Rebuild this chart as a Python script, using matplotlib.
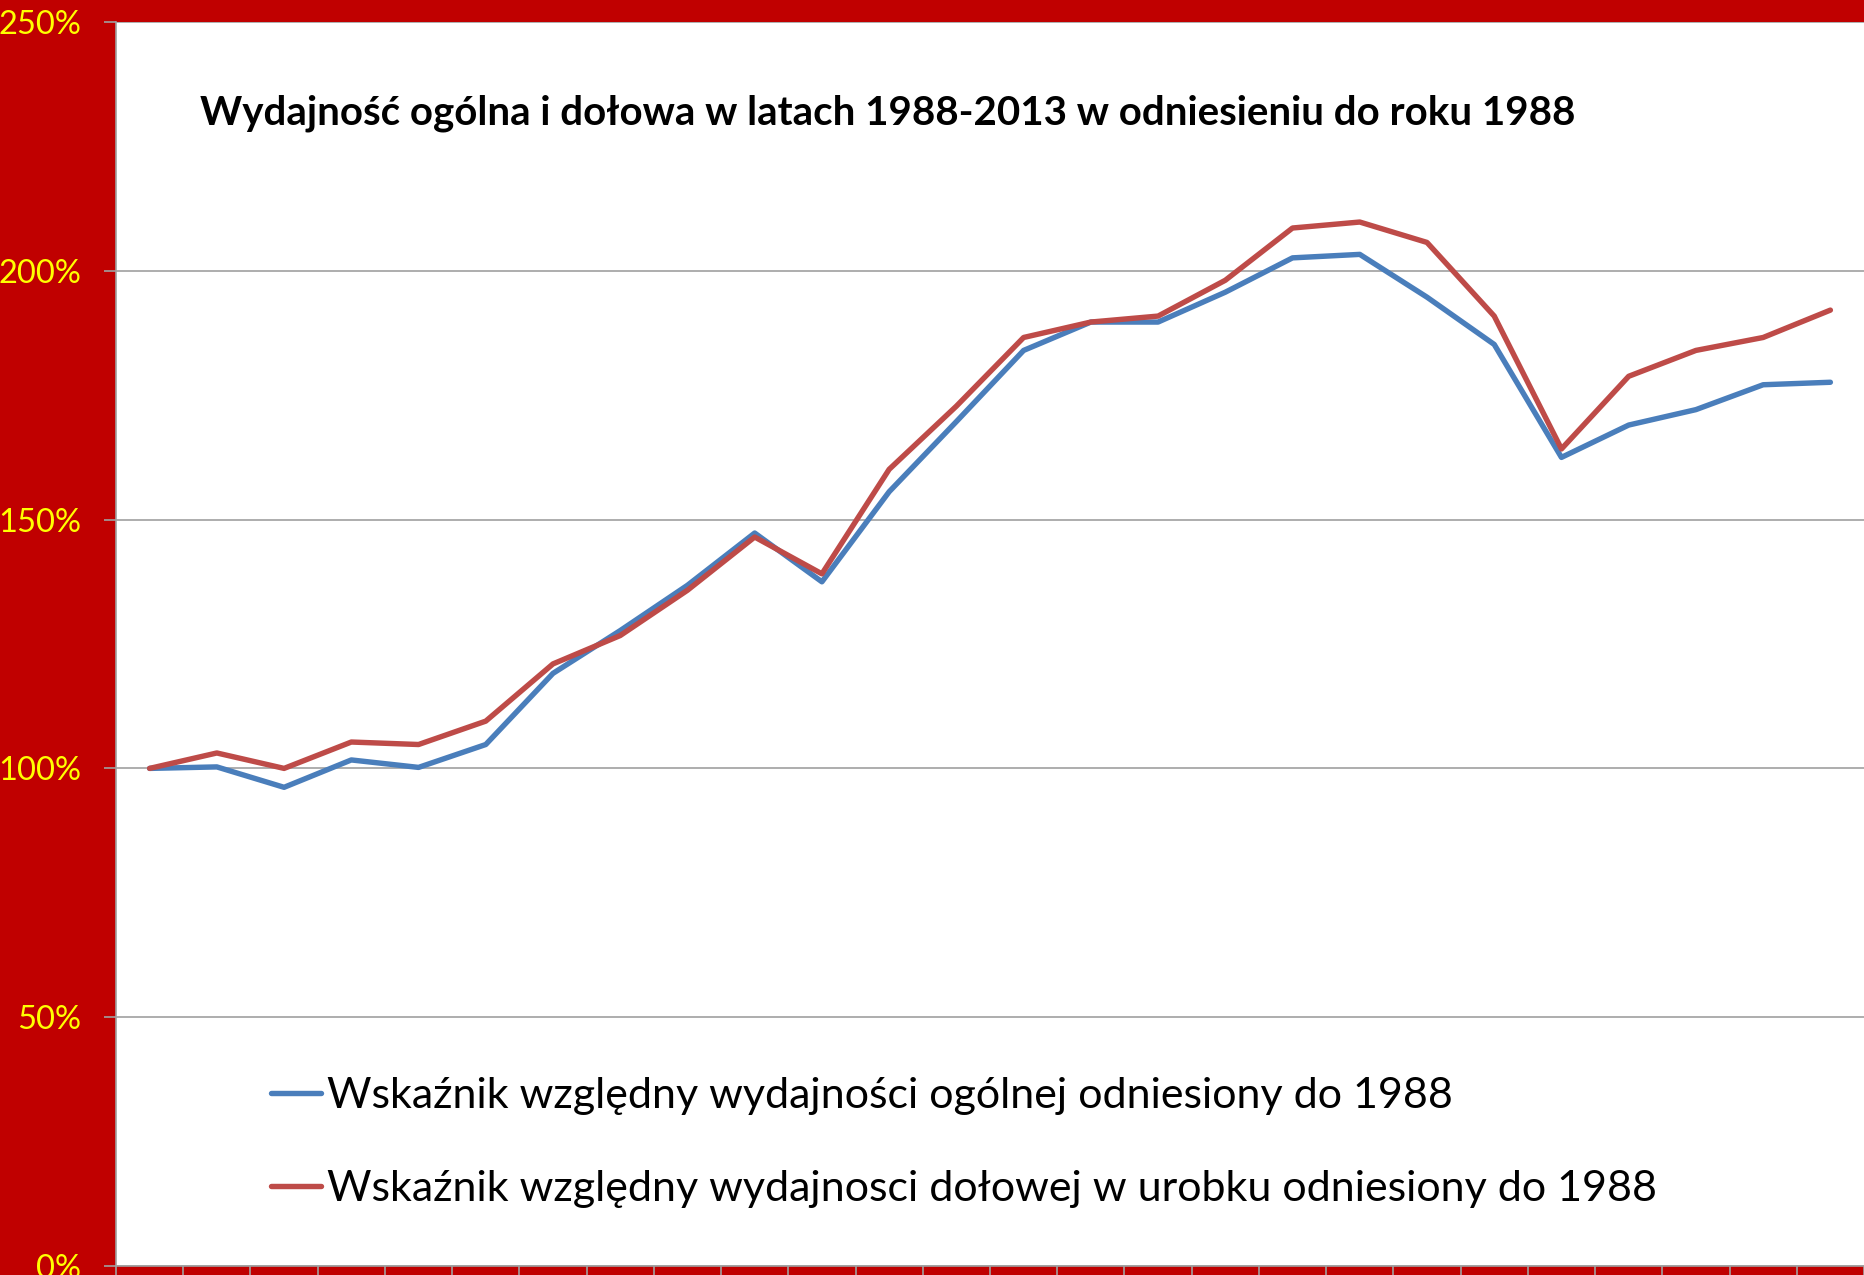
import numpy as np
import matplotlib.pyplot as plt
from matplotlib.ticker import FuncFormatter

years = list(range(1988, 2014))
ogolna = [100.0, 100.3, 96.2, 101.7, 100.2, 104.8, 119.1, 127.7, 136.8, 147.3,
          137.5, 155.6, 169.7, 184.0, 189.7, 189.7, 195.7, 202.6, 203.3, 194.7,
          185.2, 162.5, 169.0, 172.1, 177.1, 177.6]
dolowa = [100.0, 103.1, 100.0, 105.3, 104.8, 109.5, 121.0, 126.7, 135.8, 146.5,
          139.1, 160.1, 172.8, 186.6, 189.7, 190.9, 198.1, 208.6, 209.8, 205.7,
          190.9, 164.2, 178.8, 184.0, 186.6, 192.1]
labels = ["Wskaźnik względny wydajności ogólnej odniesiony do 1988",
          "Wskaźnik względny wydajnosci dołowej w urobku odniesiony do 1988"]
title = "Wydajność ogólna i dołowa w latach 1988-2013 w odniesieniu do roku 1988"

W, H = 1864, 1275
fig = plt.figure(figsize=(W / 100, H / 100), dpi=100, facecolor="#C00000")
ax = fig.add_axes([116 / W, 9 / H, (W - 116) / W, (1266 - 22) / H])
ax.set_facecolor("white")

x = np.arange(len(years))
ax.plot(x, ogolna, color="#4A7EBB", lw=3.9, solid_capstyle="round",
        solid_joinstyle="round", label=labels[0], zorder=3)
ax.plot(x, dolowa, color="#BE4B48", lw=3.9, solid_capstyle="round",
        solid_joinstyle="round", label=labels[1], zorder=3)

ax.set_xlim(-0.5, len(years) - 0.5)
ax.set_ylim(0, 250)
ax.set_yticks(np.arange(0, 251, 50))
ax.yaxis.set_major_formatter(FuncFormatter(lambda v, p: f"{v:.0f}%"))
ax.set_xticks(np.arange(-0.5, len(years), 1))
ax.set_xticklabels([])
ax.grid(axis="y", color="#A0A0A0", lw=1.2, zorder=1)
for s in ["top", "right"]:
    ax.spines[s].set_visible(False)
for s in ["left", "bottom"]:
    ax.spines[s].set_color("#A0A0A0")
    ax.spines[s].set_linewidth(1.2)
ax.tick_params(axis="y", colors="#A0A0A0", length=8.6, width=1.2,
               labelcolor="#FFFF00", labelsize=23.5, pad=16.5)
ax.tick_params(axis="x", colors="#A0A0A0", length=8.6, width=1.2)
for t in ax.get_yticklabels():
    t.set_fontfamily("Lato")

fig.text(200 / W, 1 - 113 / H, title, fontsize=29, fontweight="bold",
         family="Lato", va="center", ha="left", color="black")

leg = ax.legend(loc="upper left", bbox_to_anchor=(254 / W, 1 - 1060 / H),
                bbox_transform=fig.transFigure, frameon=False,
                prop={"family": "Lato", "size": 31}, handlelength=1.15,
                handletextpad=0.15, labelspacing=1.28, borderaxespad=0)

fig.savefig("out.png", dpi=100, facecolor=fig.get_facecolor())
